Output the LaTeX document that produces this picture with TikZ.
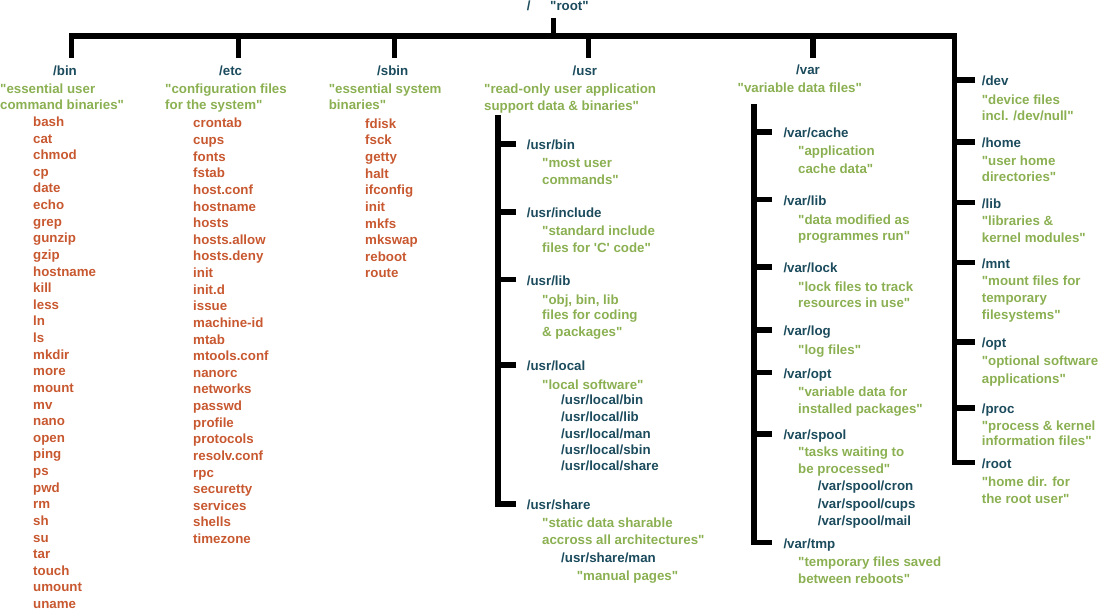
\documentclass[tikz,border=0pt]{standalone}
\usepackage{fontspec}
\newfontfamily\lsans{Liberation Sans}
\definecolor{dirc}{HTML}{1B4B5C}
\definecolor{descc}{HTML}{8BB052}
\definecolor{filec}{HTML}{C85830}
\tikzset{
  lbl/.style={font=\lsans\bfseries\fontsize{13.3}{16}\selectfont, inner sep=0pt, anchor=base west},
  dirn/.style={lbl, text=dirc},
  descn/.style={lbl, text=descc},
  filen/.style={lbl, text=filec},
  tree/.style={line width=5.5pt, black, line join=miter},
}
% name, x, centre y, text
\newcommand\dnode[4]{\node[dirn] (#1) at (#2,{#3+4}) {#4};}
\newcommand\dline[4]{\node[descn] (#1) at (#2,{#3+4}) {#4};}
% prefix, x, first centre y, list
\newcommand\filelist[4]{\foreach \t [count=\i] in {#4} {\node[filen] (#1-\i) at (#2,{#3+4+(\i-1)*16.62}) {\t};}}
% node, xshift to tick end, xshift to trunk
\newcommand\tick[3]{\draw[tree] ([xshift=-#2,yshift=5.5pt]#1.base west) -- ([xshift=-#3,yshift=5.5pt]#1.base west);}
\begin{document}
\begin{tikzpicture}[x=1pt,y=-1pt]
\useasboundingbox (0,0) rectangle (1120,610);
% root
\dnode{slash}{526.7}{6.7}{/}
\dnode{rootlbl}{550}{6.7}{"root"}
% top-level labels
\dnode{bin}{53}{71.7}{/bin}
\dline{bin-d1}{0}{89.3}{"essential user}
\dline{bin-d2}{0}{106}{command binaries"}
\filelist{binf}{33}{122.5}{bash,cat,chmod,cp,date,echo,grep,gunzip,gzip,hostname,kill,less,ln,ls,mkdir,more,mount,mv,nano,open,ping,ps,pwd,rm,sh,su,tar,touch,umount,uname}
\dnode{etc}{219}{71.7}{/etc}
\dline{etc-d1}{165}{89.3}{"configuration files}
\dline{etc-d2}{165}{106}{for the system"}
\filelist{etcf}{193}{124}{crontab,cups,fonts,fstab,host.conf,hostname,hosts,hosts.allow,hosts.deny,init,init.d,issue,machine-id,mtab,mtools.conf,nanorc,networks,passwd,profile,protocols,resolv.conf,rpc,securetty,services,shells,timezone}
\dnode{sbin}{377}{71.7}{/sbin}
\dline{sbin-d1}{328.6}{89.3}{"essential system}
\dline{sbin-d2}{328.6}{106}{binaries"}
\filelist{sbinf}{365}{124.3}{fdisk,fsck,getty,halt,ifconfig,init,mkfs,mkswap,reboot,route}
\dnode{usr}{572.5}{71.7}{/usr}
\dline{usr-d1}{484}{89.3}{"read-only user application}
\dline{usr-d2}{484}{106.7}{support data \& binaries"}
\dnode{var}{796}{70.5}{/var}
\dline{var-d1}{737.5}{88.3}{"variable data files"}
% /usr children
\dnode{usrbin}{526.7}{145.3}{/usr/bin}
\dline{usrbin-d1}{542}{163.3}{"most user}
\dline{usrbin-d2}{542}{180}{commands"}
\dnode{usrinc}{526.7}{213.3}{/usr/include}
\dline{usrinc-d1}{542}{231.7}{"standard include}
\dline{usrinc-d2}{542}{248.3}{files for {\char"0027}C{\char"0027} code"}
\dnode{usrlib}{526.7}{281}{/usr/lib}
\dline{usrlib-d1}{542}{300}{"obj, bin, lib}
\dline{usrlib-d2}{542}{315.7}{files for coding}
\dline{usrlib-d3}{542}{332.3}{\& packages"}
\dnode{usrloc}{526.7}{366.7}{/usr/local}
\dline{usrloc-d1}{542}{385}{"local software"}
\dnode{usrloc-1}{561}{400.7}{/usr/local/bin}
\dnode{usrloc-2}{561}{417.3}{/usr/local/lib}
\dnode{usrloc-3}{561}{434}{/usr/local/man}
\dnode{usrloc-4}{561}{450.3}{/usr/local/sbin}
\dnode{usrloc-5}{561}{466.7}{/usr/local/share}
\dnode{usrshr}{526.7}{505.7}{/usr/share}
\dline{usrshr-d1}{542}{523.3}{"static data sharable}
\dline{usrshr-d2}{542}{540}{accross all architectures"}
\dnode{usrman}{561}{558.3}{/usr/share/man}
\dline{usrman-d1}{576.7}{576.7}{"manual pages"}
% /var children
\dnode{vcache}{783.3}{133.3}{/var/cache}
\dline{vcache-d1}{798}{151.7}{"application}
\dline{vcache-d2}{798}{169}{cache data"}
\dnode{vlib}{783.3}{201}{/var/lib}
\dline{vlib-d1}{798}{220}{"data modified as}
\dline{vlib-d2}{798}{236.7}{programmes run"}
\dnode{vlock}{783.3}{268.3}{/var/lock}
\dline{vlock-d1}{798}{287.3}{"lock files to track}
\dline{vlock-d2}{798}{303.3}{resources in use"}
\dnode{vlog}{783.3}{331.7}{/var/log}
\dline{vlog-d1}{798}{350}{"log files"}
\dnode{vopt}{783.3}{374}{/var/opt}
\dline{vopt-d1}{798}{392.3}{"variable data for}
\dline{vopt-d2}{798}{409}{installed packages"}
\dnode{vspool}{783.3}{435.7}{/var/spool}
\dline{vspool-d1}{798}{452.7}{"tasks waiting to}
\dline{vspool-d2}{798}{469.3}{be processed"}
\dnode{vspool-1}{817.7}{486.7}{/var/spool/cron}
\dnode{vspool-2}{817.7}{504}{/var/spool/cups}
\dnode{vspool-3}{817.7}{521.7}{/var/spool/mail}
\dnode{vtmp}{783.3}{544}{/var/tmp}
\dline{vtmp-d1}{798}{562.7}{"temporary files saved}
\dline{vtmp-d2}{798}{579.3}{between reboots"}
% right column
\dnode{dev}{981.7}{81.7}{/dev}
\dline{dev-d1}{981.7}{100}{"device files}
\dline{dev-d2}{981.7}{116.3}{incl. /dev/null"}
\dnode{home}{981.7}{143.3}{/home}
\dline{home-d1}{981.7}{161}{"user home}
\dline{home-d2}{981.7}{177.7}{directories"}
\dnode{lib}{981.7}{204}{/lib}
\dline{lib-d1}{981.7}{221.7}{"libraries \&}
\dline{lib-d2}{981.7}{238.3}{kernel modules"}
\dnode{mnt}{981.7}{264}{/mnt}
\dline{mnt-d1}{981.7}{281.7}{"mount files for}
\dline{mnt-d2}{981.7}{298.3}{temporary}
\dline{mnt-d3}{981.7}{315.7}{filesystems"}
\dnode{opt}{981.7}{343.3}{/opt}
\dline{opt-d1}{981.7}{361.7}{"optional software}
\dline{opt-d2}{981.7}{379}{applications"}
\dnode{proc}{981.7}{409.3}{/proc}
\dline{proc-d1}{981.7}{426}{"process \& kernel}
\dline{proc-d2}{981.7}{441.7}{information files"}
\dnode{rootdir}{981.7}{464}{/root}
\dline{rootdir-d1}{981.7}{482.7}{"home dir. for}
\dline{rootdir-d2}{981.7}{499.3}{the root user"}
% tree lines
\coordinate (rootstem) at (553.3,18);
\coordinate (barL) at (71.4,36);
\coordinate (barR) at (954.6,36);
\draw[tree] (rootstem) -- (rootstem |- barL);
\draw[tree] (71.4,58) -- (barL) -- (barR) |- ([xshift=-6.7pt,yshift=5.5pt]rootdir.base west);
\draw[tree] (238.6,36) -- (238.6,58);
\draw[tree] (394.6,36) -- (394.6,58);
\draw[tree] (588.6,36) -- (588.6,58);
\draw[tree] (813,36) -- (813,58);
\foreach \n in {dev,home,lib,mnt,opt,proc} {\tick{\n}{6.7pt}{27.1pt}}
% /usr trunk
\coordinate (usrtop) at (498,115);
\draw[tree] (usrtop) |- ([xshift=-10.7pt,yshift=5.5pt]usrshr.base west);
\foreach \n in {usrbin,usrinc,usrlib,usrloc} {\tick{\n}{10.7pt}{28.7pt}}
% /var trunk
\coordinate (vartop) at (754,104);
\draw[tree] (vartop) |- ([xshift=-11.3pt,yshift=5.5pt]vtmp.base west);
\foreach \n in {vcache,vlib,vlock,vlog,vopt,vspool} {\tick{\n}{11.3pt}{29.3pt}}
\end{tikzpicture}
\end{document}
